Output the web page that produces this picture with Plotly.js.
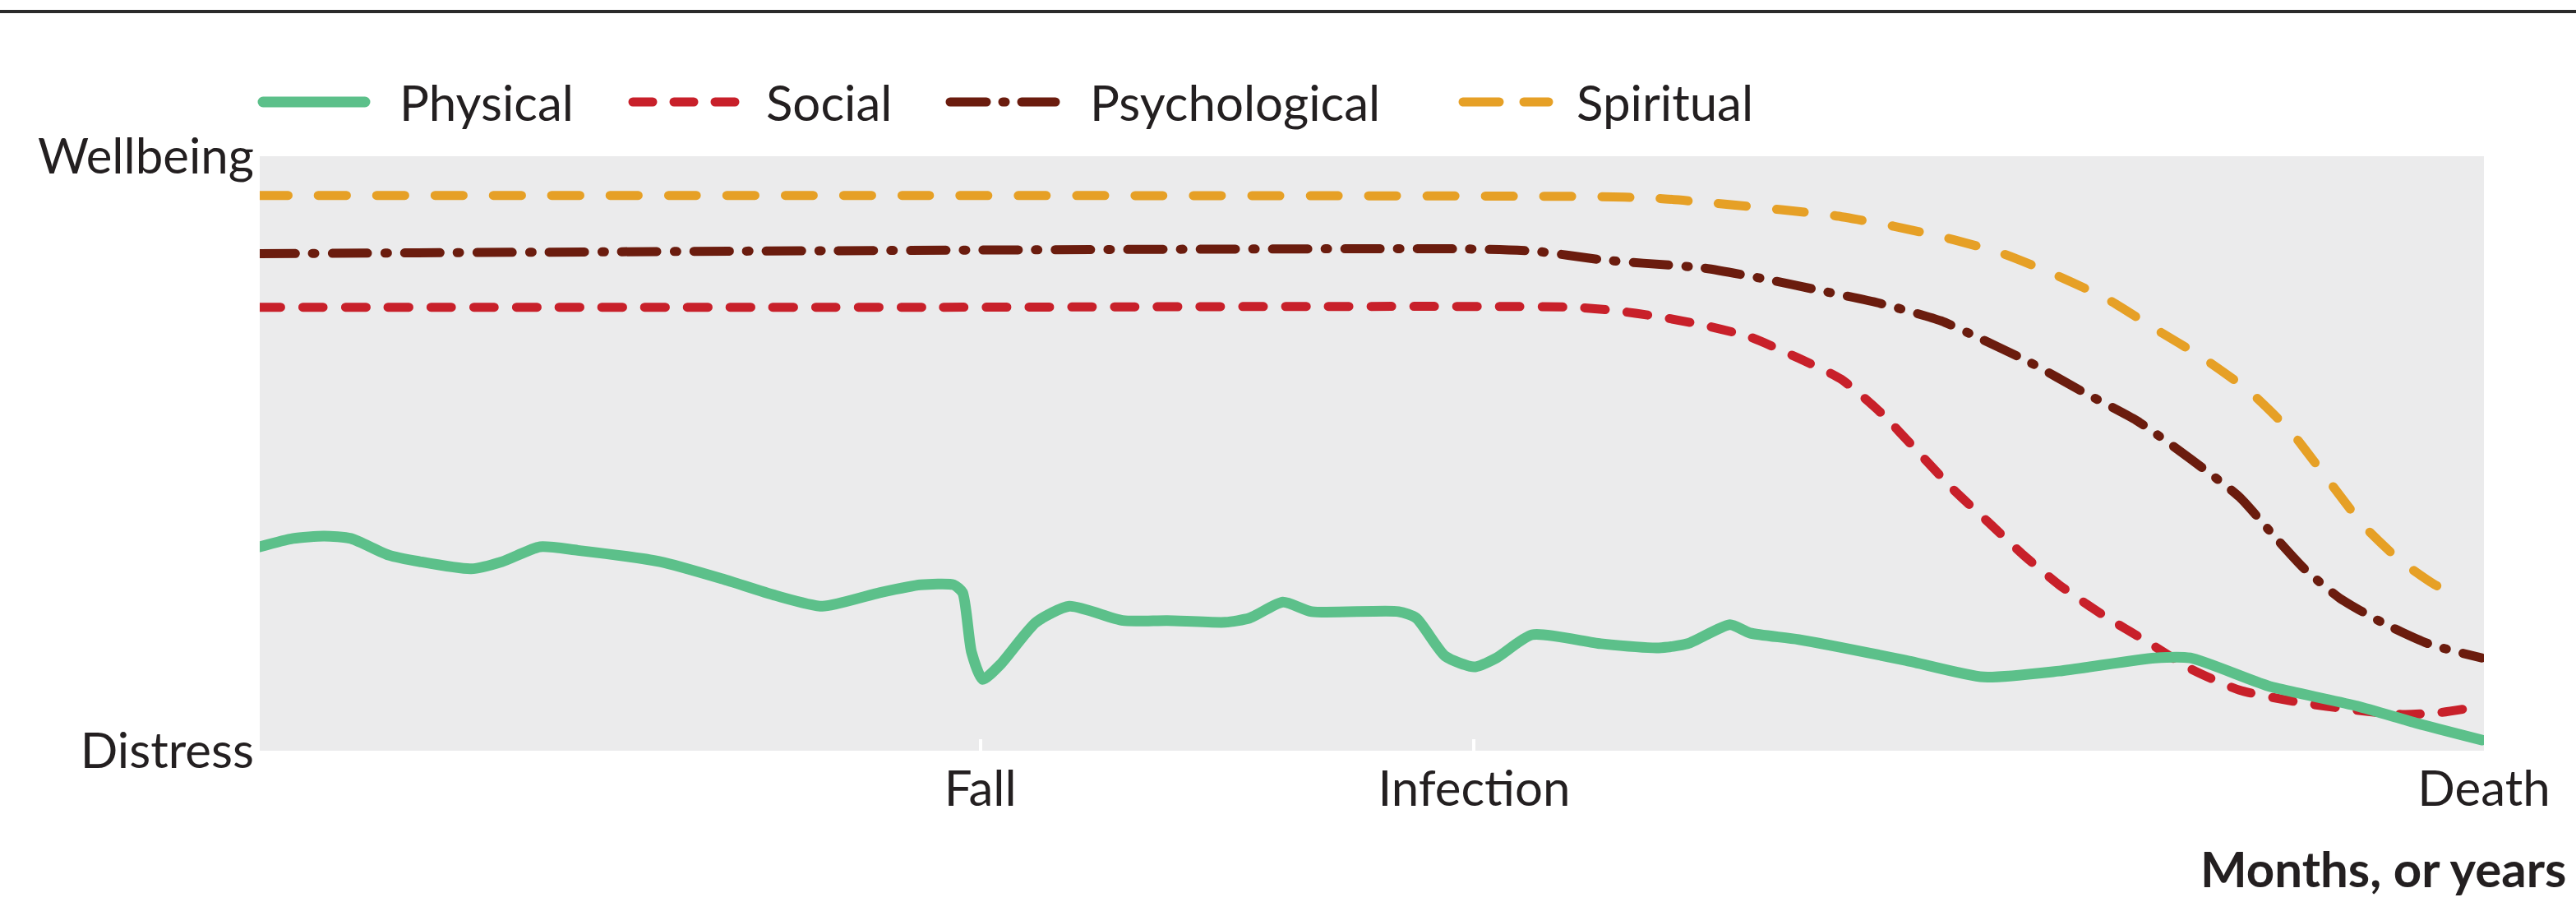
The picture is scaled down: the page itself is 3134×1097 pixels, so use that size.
<!DOCTYPE html>
<html>
<head>
<meta charset="utf-8">
<script src="https://cdn.plot.ly/plotly-3.0.1.min.js"></script>
<style>
html,body{margin:0;padding:0;background:#fff;}
#chart{width:3134px;height:1097px;}
.scatterlayer path.js-line{stroke-linecap:round;stroke-linejoin:round;}
.shapelayer path{stroke-linecap:round;}
</style>
</head>
<body>
<div id="chart"></div>
<script>
// ---- Data (time normalised 0..100 from start to death; 0 = distress, 100 = wellbeing) ----
const seriesNames = ['Physical', 'Social', 'Psychological', 'Spiritual'];

const physicalX = [0, 1.5, 2.9, 4.1, 5.8, 7.2, 9.5, 10.9, 12.6, 14.3, 18.0, 20.8, 23.2, 25.3, 27.9, 29.7, 31.2, 31.6, 32.0, 32.5, 33.3, 34.9, 36.4, 38.8, 40.8, 43.4, 44.5, 46.0, 47.3, 51.2, 52.0, 53.3, 54.6, 55.6, 57.2, 60.3, 62.9, 64.2, 66.1, 67.0, 69.2, 74.0, 77.5, 80.9, 85.2, 86.8, 90.3, 94.3, 97.0, 99.9];
const physicalY = [34.3, 35.7, 36.1, 35.7, 32.9, 31.8, 30.6, 31.8, 34.3, 33.7, 31.8, 28.9, 26.1, 24.3, 26.6, 27.9, 27.9, 26.6, 16.6, 12.0, 14.5, 21.6, 24.3, 21.9, 21.9, 21.6, 22.3, 25.0, 23.4, 23.4, 22.3, 15.9, 14.1, 15.6, 19.5, 18.0, 17.3, 18.0, 21.2, 19.8, 18.7, 15.2, 12.4, 13.4, 15.6, 15.6, 10.9, 7.5, 4.6, 1.8];

const socialX = [0, 30, 59.0, 60.8, 62.9, 64.9, 67.0, 69.2, 71.1, 72.9, 74.5, 76.1, 77.7, 79.3, 80.9, 82.8, 85.0, 86.8, 89.0, 91.6, 94.3, 96.4, 98.0, 99.9];
const socialY = [74.6, 74.6, 74.6, 74.1, 73.0, 71.6, 69.6, 66.0, 62.5, 56.8, 50.5, 44.1, 38.5, 32.9, 27.9, 23.0, 18.0, 13.8, 10.2, 8.2, 6.8, 6.1, 6.4, 7.5];

const psychX = [0, 25.3, 54.3, 57.4, 60.3, 62.2, 64.9, 67.6, 70.3, 72.9, 75.6, 77.2, 79.6, 82.0, 84.4, 86.8, 89.0, 90.5, 91.9, 93.5, 95.4, 97.5, 99.9];
const psychY = [83.6, 84.1, 84.4, 84.0, 82.6, 82.0, 81.2, 79.4, 77.3, 75.2, 72.3, 69.6, 65.3, 60.3, 55.5, 49.1, 42.7, 36.4, 30.7, 25.7, 21.6, 18.0, 15.6];

const spiritualX = [0, 30, 60.3, 62.9, 65.4, 68.4, 70.8, 73.5, 75.9, 78.3, 80.7, 83.1, 85.2, 87.4, 89.5, 91.4, 93.0, 94.6, 96.2, 97.8, 99.1];
const spiritualY = [93.4, 93.4, 93.2, 92.9, 92.1, 91.0, 90.0, 88.2, 86.2, 83.7, 80.1, 75.9, 71.0, 66.0, 60.3, 53.3, 45.5, 37.8, 32.1, 27.9, 25.7];

const eventNames = ['Fall', 'Infection', 'Death'];
const eventTimes = [32.4, 54.6, 100];

const yTickLabels = ['Distress', 'Wellbeing'];
const yTickVals = [0, 100];
const xTitle = 'Months, or years';

// ---- Styles ----
const FONT = 'Lato, "Open Sans", sans-serif';
const TXT = '#231f20';
const styles = {
  Physical:      {color: '#5cc08a', width: 13, dash: 'solid'},
  Social:        {color: '#c8202a', width: 11, dash: '25px,27px'},
  Psychological: {color: '#6b1c0e', width: 11, dash: '43px,21px,3px,21px'},
  Spiritual:     {color: '#e6a026', width: 11, dash: '34px,37px'}
};
const seriesData = {
  Physical: [physicalX, physicalY],
  Social: [socialX, socialY],
  Psychological: [psychX, psychY],
  Spiritual: [spiritualX, spiritualY]
};

// draw order: spiritual, psychological, social, physical (green on top)
const drawOrder = ['Spiritual', 'Psychological', 'Social', 'Physical'];
const traces = drawOrder.map(name => ({
  type: 'scatter', mode: 'lines', name: name,
  x: seriesData[name][0], y: seriesData[name][1],
  line: {color: styles[name].color, width: styles[name].width, dash: styles[name].dash,
         shape: 'spline', smoothing: 0.6},
  showlegend: false, hoverinfo: 'skip'
}));

// ---- Custom legend (long swatches like the original) ----
const W = 3134, H = 1097;
const mL = 316, mR = 112, mT = 190, mB = 184;
const pw = W - mL - mR, ph = H - mT - mB;
const px = X => (X - mL) / pw;
const py = Y => (H - mB - Y) / ph;
const legendY = 124;
const legendPos = {Physical: [314, 450, 484], Social: [764, 900, 930], Psychological: [1150, 1290, 1324], Spiritual: [1774, 1890, 1916]};
const legendDash = {Physical: 'solid', Social: '24px,26px', Psychological: '44px,20px,3px,20px', Spiritual: '44px,30px'};

const shapes = [];
const annotations = [];
seriesNames.forEach(name => {
  const p = legendPos[name];
  const s = styles[name];
  shapes.push({type: 'line', xref: 'paper', yref: 'paper', x0: px(p[0] + 6), x1: px(p[1] - 6), y0: py(legendY), y1: py(legendY),
    line: {color: s.color, width: s.width, dash: legendDash[name]}});
  annotations.push({xref: 'paper', yref: 'paper', x: px(p[2]), y: py(legendY), xanchor: 'left', yanchor: 'middle',
    text: name, showarrow: false, font: {family: FONT, size: 60, color: TXT}});
});
// top rule
shapes.push({type: 'line', xref: 'paper', yref: 'paper', x0: px(0), x1: px(W), y0: py(14), y1: py(14), line: {color: '#2b2b2b', width: 4}});
// axis title at bottom right
annotations.push({xref: 'paper', yref: 'paper', x: px(3124), y: py(1056), xanchor: 'right', yanchor: 'middle',
  text: '<b>' + xTitle + '</b>', showarrow: false, font: {family: FONT, size: 60, color: TXT}});

const layout = {
  width: W, height: H,
  margin: {l: mL, r: mR, t: mT, b: mB, pad: 0},
  paper_bgcolor: '#ffffff',
  plot_bgcolor: '#ebebec',
  showlegend: false,
  font: {family: FONT, size: 60, color: TXT},
  xaxis: {
    range: [0, 100], showgrid: false, zeroline: false, showline: false,
    tickmode: 'array', tickvals: eventTimes, ticktext: eventNames,
    ticks: 'inside', ticklen: 14, tickwidth: 4, tickcolor: '#ffffff',
    ticklabelstandoff: 6,
    tickfont: {family: FONT, size: 60, color: TXT}
  },
  yaxis: {
    range: [0, 100], showgrid: false, zeroline: false, showline: false,
    tickmode: 'array', tickvals: yTickVals, ticktext: yTickLabels,
    ticks: '', ticklabelstandoff: 6,
    tickfont: {family: FONT, size: 60, color: TXT}
  },
  shapes: shapes,
  annotations: annotations
};

Plotly.newPlot('chart', traces, layout, {staticPlot: true, displayModeBar: false});
</script>
</body>
</html>
